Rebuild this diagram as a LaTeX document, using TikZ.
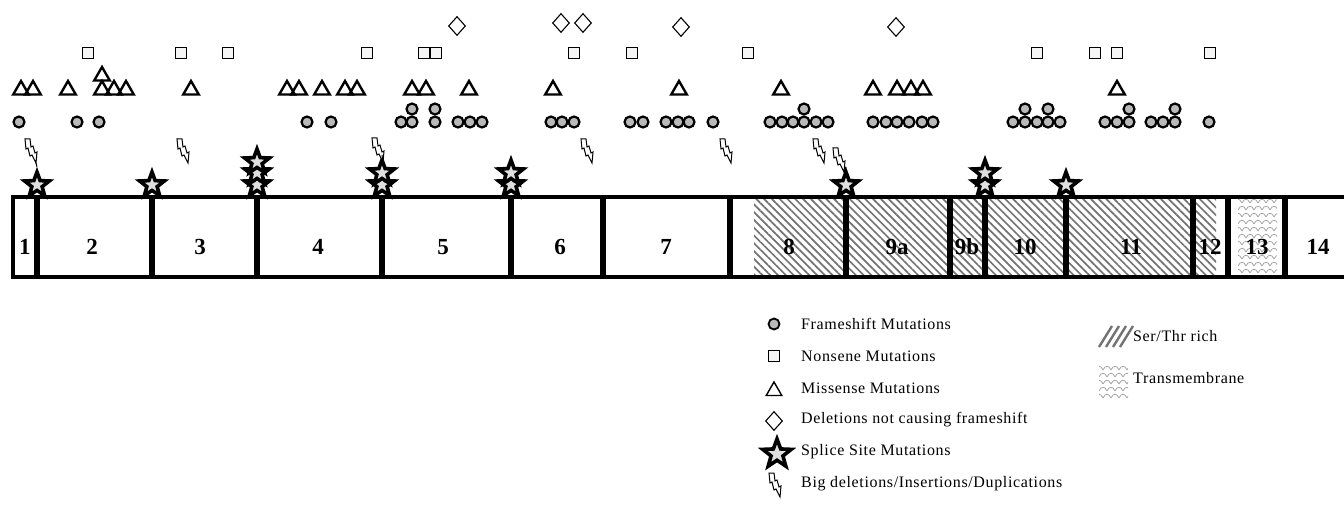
\documentclass[tikz,border=0pt]{standalone}
\usepackage{fontspec}
\setmainfont{Liberation Serif}
\usetikzlibrary{shapes.geometric,patterns.meta}

\tikzset{
  fshift/.style={circle, draw, fill=gray!55, line width=2.2pt, minimum size=11pt, inner sep=0pt},
  nonsense/.style={rectangle, draw, fill=gray!8, line width=1.5pt, minimum size=11pt, inner sep=0pt},
  missense/.style={regular polygon, regular polygon sides=3, draw, line width=2.4pt, minimum size=18pt, inner sep=0pt},
  inframe/.style={diamond, draw, line width=1.1pt, minimum width=17pt, minimum height=19pt, inner sep=0pt},
  splice/.style={star, star points=5, star point ratio=2.4, draw, fill=gray!25, line width=3.6pt, minimum size=26pt, inner sep=0pt},
  exlbl/.style={font=\fontsize{23}{26}\selectfont\bfseries, inner sep=0pt},
  leglbl/.style={anchor=west, font=\fontsize{16}{18}\selectfont\addfontfeatures{LetterSpace=4}, inner sep=0pt},
  serthr/.style={pattern={Lines[angle=-45, distance=5.5pt, line width=1.7pt]}, pattern color=black!55},
  tmscale/.style={gray!70, line width=0.8pt},
  bigdel/.pic={
    \draw[fill=white, line width=1pt] (-5,-12) -- (0,-12) -- (1,-4) -- (3,-5) -- (5,2) -- (7,1)
      -- (6,12) -- (2,4) -- (0,5) -- (-2,-3) -- (-4,-2) -- cycle;
    \coordinate (-tip) at (6,12);
  }
}

\begin{document}
\begin{tikzpicture}[x=1pt, y=-1pt]
\useasboundingbox (0,0) rectangle (1344,516);

% exon boxes
\fill[serthr] (754,199) rectangle (1193,275);
\fill[serthr] (1195,199) rectangle (1216,275);
\begin{scope}
\clip (1238,199) rectangle (1277,275);
\foreach \r in {0,...,11}
  \foreach \c in {0,...,5} {
    \pgfmathsetmacro\px{1238+\c*8+mod(\r,2)*4}
    \pgfmathsetmacro\py{200+\r*7}
    \draw[tmscale] (\px-4,\py+3) .. controls (\px-2,\py-2) and (\px+2,\py-2) .. (\px+4,\py+3);
  }
\end{scope}
\draw[line width=4pt] (1344,197) -- (13,197) -- (13,277) -- (1344,277);
\foreach \x in {37,152,257,382,511,603,730,846,950,985,1066,1193,1228,1285}
  \draw[line width=5.5pt] (\x,197) -- (\x,277);

\node[exlbl] (e1) at (25,247) {1};
\node[exlbl] (e2) at (92,247) {2};
\node[exlbl] (e3) at (200,247) {3};
\node[exlbl] (e4) at (318,247) {4};
\node[exlbl] (e5) at (443,247) {5};
\node[exlbl] (e6) at (560,247) {6};
\node[exlbl] (e7) at (666,247) {7};
\node[exlbl] (e8) at (789,247) {8};
\node[exlbl] (e9a) at (897,247) {9a};
\node[exlbl] (e9b) at (967,247) {9b};
\node[exlbl] (e10) at (1025,247) {10};
\node[exlbl] (e11) at (1131,247) {11};
\node[exlbl] (e12) at (1210,247) {12};
\node[exlbl] (e13) at (1257,247) {13};
\node[exlbl] (e14) at (1318,247) {14};

% mutations
\foreach \x [count=\i] in {19,77,99,307,331,401,412,435,458,470,482,551,562,574,630,643,666,678,689,713,
    770,782,793,804,816,828,873,886,897,909,922,933,1013,1025,1037,1048,1060,1105,1117,1129,1151,1163,1175,1209}
  \node[fshift] (fs\i) at (\x,122) {};
\foreach \x [count=\i] in {412,435,804,1025,1048,1129,1175}
  \node[fshift] (fu\i) at (\x,109) {};
\foreach \x [count=\i] in {21,33,68,102,114,126,191,287,299,322,345,357,412,426,469,553,679,781,873,897,911,923,1117}
  \node[missense] (ms\i) at (\x,90) {};
\node[missense] (mu1) at (102,76) {};
\foreach \x [count=\i] in {88,181,228,367,424,436,574,632,748,1037,1095,1117,1210}
  \node[nonsense] (ns\i) at (\x,53) {};
\node[inframe] (if1) at (457,26) {};
\node[inframe] (if2) at (561,23) {};
\node[inframe] (if3) at (583,23) {};
\node[inframe] (if4) at (681,27) {};
\node[inframe] (if5) at (896,27) {};

\node[splice] (s1) at (37,185) {};
\node[splice] (s2) at (152,185) {};
\node[splice] (s3) at (257,185) {};
\node[splice] (s3b) at (257,173) {};
\node[splice] (s3c) at (257,162) {};
\node[splice] (s4) at (382,185) {};
\node[splice] (s4b) at (382,173) {};
\node[splice] (s5) at (511,185) {};
\node[splice] (s5b) at (511,173) {};
\node[splice] (s6) at (846,185) {};
\node[splice] (s7) at (985,185) {};
\node[splice] (s7b) at (985,173) {};
\node[splice] (s8) at (1066,185) {};

\pic (bd1) at (30,151) {bigdel};
\pic (bd2) at (182,151) {bigdel};
\pic (bd3) at (377,150) {bigdel};
\pic (bd4) at (586,151) {bigdel};
\pic (bd5) at (725,151) {bigdel};
\pic (bd6) at (818,151) {bigdel};
\pic (bd7) at (838,160) {bigdel};
\draw[line width=1pt] (bd1-tip) -- (s1.north);
\draw[line width=1pt] (bd3-tip) -- (s4b.north);
\draw[line width=1pt] (bd7-tip) -- (s6.north);

% legend
\node[fshift, line width=1.8pt] (lfs) at (774,324) {};
\node[nonsense] (lns) at (774,356) {};
\node[missense, line width=1.4pt, minimum size=18pt] (lms) at (774,391) {};
\node[inframe] (lif) at (774,421) {};
\node[splice, minimum size=30pt] (lsp) at (777,454) {};
\pic (lbd) at (774,485) {bigdel};
\node[leglbl] (tfs) at (801,324) {Frameshift Mutations};
\node[leglbl] (tns) at (801,356) {Nonsene Mutations};
\node[leglbl] (tms) at (801,388) {Missense Mutations};
\node[leglbl] (tif) at (801,420) {Deletions not causing frameshift};
\node[leglbl] (tsp) at (801,452) {Splice Site Mutations};
\node[leglbl] (tbd) at (801,484) {Big deletions/Insertions/Duplications};

\foreach \k in {0,...,3}
  \draw[black!55, line width=2.4pt] (1099+\k*7,347) -- (1112+\k*7,326);
\node[leglbl] (tst) at (1133,336) {Ser/Thr rich};
\begin{scope}
\clip (1099,366) rectangle (1128,400);
\foreach \r in {0,...,5}
  \foreach \c in {0,...,4} {
    \pgfmathsetmacro\px{1099+\c*8+mod(\r,2)*4}
    \pgfmathsetmacro\py{367+\r*7}
    \draw[tmscale] (\px-4,\py+3) .. controls (\px-2,\py-2) and (\px+2,\py-2) .. (\px+4,\py+3);
  }
\end{scope}
\node[leglbl] (ttm) at (1133,378) {Transmembrane};
\end{tikzpicture}
\end{document}
